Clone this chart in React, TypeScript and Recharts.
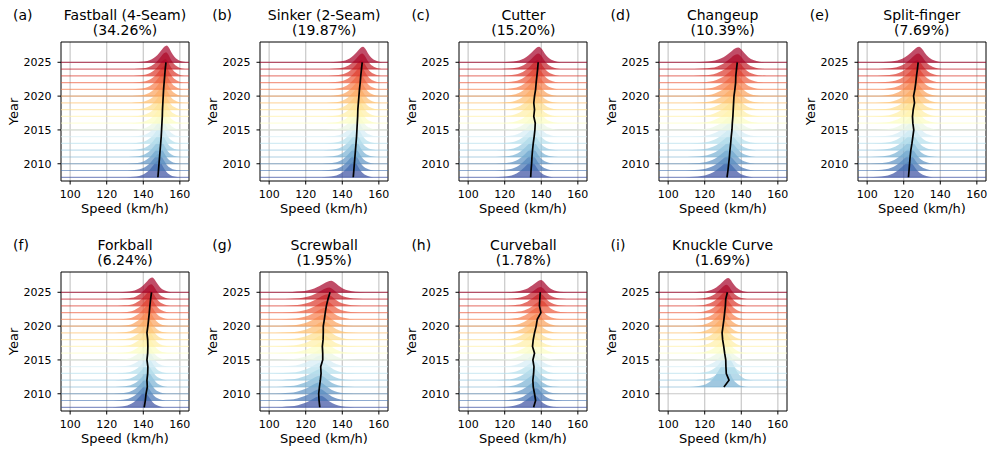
import { Area, CartesianGrid, ComposedChart, Line, ReferenceArea, ReferenceLine, XAxis, YAxis } from "recharts";

const YEARS = [2008, 2009, 2010, 2011, 2012, 2013, 2014, 2015, 2016, 2017, 2018, 2019, 2020, 2021, 2022, 2023, 2024, 2025];

const PANEL_TAGS = ["(a)", "(b)", "(c)", "(d)", "(e)", "(f)", "(g)", "(h)", "(i)"];
const PITCH_NAMES = ["Fastball (4-Seam)", "Sinker (2-Seam)", "Cutter", "Changeup", "Split-finger", "Forkball", "Screwball", "Curveball", "Knuckle Curve"];
const PITCH_SHARES = ["34.26%", "19.87%", "15.20%", "10.39%", "7.69%", "6.24%", "1.95%", "1.78%", "1.69%"];

// yearly centre speed (km/h), the black line, 2008..2025 (null = no data that year)
const FASTBALL_4S = [148.0, 148.3, 148.6, 148.9, 149.2, 149.5, 149.8, 150.0, 150.2, 150.4, 150.5, 150.7, 150.9, 151.1, 151.4, 151.7, 152.0, 152.4];
const SINKER_2S = [146.0, 146.3, 146.6, 146.9, 147.2, 147.5, 147.8, 148.0, 148.2, 148.4, 148.5, 148.8, 149.1, 149.4, 149.8, 150.1, 150.5, 150.9];
const CUTTER = [134.2, 134.4, 134.7, 134.9, 135.2, 135.6, 136.1, 136.5, 136.7, 135.9, 136.3, 135.9, 136.3, 136.9, 137.2, 137.6, 138.0, 138.3];
const CHANGEUP = [132.2, 132.7, 133.1, 133.5, 133.8, 134.2, 134.5, 134.9, 135.1, 135.4, 135.6, 135.8, 136.0, 136.5, 136.9, 137.0, 137.4, 137.8];
const SPLITTER = [122.6, 122.9, 123.2, 123.5, 123.9, 124.5, 125.0, 125.5, 125.0, 124.8, 125.2, 125.9, 125.4, 126.1, 126.6, 127.0, 127.5, 127.9];
const FORKBALL = [140.5, 141.1, 141.5, 142.2, 142.0, 142.4, 142.5, 142.0, 142.4, 142.5, 142.4, 142.0, 142.5, 142.9, 143.3, 143.6, 144.0, 144.5];
const SCREWBALL = [127.7, 127.3, 127.1, 127.5, 128.0, 128.4, 128.2, 129.3, 129.3, 129.1, 129.5, 129.6, 129.6, 130.2, 130.7, 131.3, 132.2, 133.3];
const CURVEBALL = [135.8, 136.9, 136.3, 135.6, 135.4, 135.8, 136.0, 135.4, 136.3, 135.2, 135.6, 136.3, 137.2, 137.8, 139.8, 139.0, 139.2, 139.4];
const KNUCKLE_CURVE = [null, null, null, 130.5, 133.3, 131.8, 131.6, 131.5, 130.9, 130.4, 129.8, 129.5, 130.0, 130.5, 130.9, 131.3, 131.5, 132.4];

// ridge spread (km/h) and peak height (years) per pitch
const RIDGE_SPREAD = [3.1, 3.2, 3.6, 4.2, 3.9, 3.2, 4.8, 3.7, 3.4];
const RIDGE_HEIGHT = [2.5, 2.3, 2.3, 2.2, 2.3, 2.2, 1.7, 1.8, 2.1];
const KNUCKLE_RIDGE_HEIGHT = [0, 0, 0, 3.5, 3.0, 2.5, 2.2, 2.1, 2.1, 2.1, 2.1, 2.1, 2.1, 2.1, 2.1, 2.1, 2.1, 2.1];

// shared ridge outline: offset (in spreads) from the centre, relative height
const PROFILE_OFFSET = [-5.5, -4.3, -3.3, -2.5, -1.8, -1.2, -0.7, -0.3, 0.15, 0.5, 0.95, 1.45, 2.1, 2.9, 4.0];
const PROFILE_HEIGHT = [0, 0.03, 0.08, 0.18, 0.34, 0.55, 0.76, 0.92, 1.0, 0.88, 0.6, 0.34, 0.15, 0.04, 0];

const SPEED_TICKS = [100, 120, 140, 160];
const YEAR_TICKS = [2010, 2015, 2020, 2025];
const SPEED_DOMAIN: [number, number] = [95, 165];
const YEAR_DOMAIN: [number, number] = [2007.45, 2028];

const CENTRES = [FASTBALL_4S, SINKER_2S, CUTTER, CHANGEUP, SPLITTER, FORKBALL, SCREWBALL, CURVEBALL, KNUCKLE_CURVE];

const FONT = '"DejaVu Sans", sans-serif';
const RDYLBU = ["#a50026", "#d73027", "#f46d43", "#fdae61", "#fee090", "#ffffbf", "#e0f3f8", "#abd9e9", "#74add1", "#4575b4", "#313695"];

/** RdYlBu_r sampled over the year range (blue end stops a little short of the darkest stop). */
function yearColor(year: number): string {
  const p = (1 - (year - 2008) / 17) * 9.6;
  const i = Math.min(9, Math.floor(p));
  const f = p - i;
  const a = RDYLBU[i], b = RDYLBU[i + 1];
  const ch = (s: string, k: number) => parseInt(s.slice(1 + 2 * k, 3 + 2 * k), 16);
  const mix = [0, 1, 2].map((k) => Math.round(ch(a, k) * (1 - f) + ch(b, k) * f));
  return `rgb(${mix.join(",")})`;
}

const YearLabel = ({ viewBox }: any) => {
  const x = viewBox.x + 13.5;
  const y = viewBox.y + viewBox.height / 2;
  return (
    <text x={x} y={y} transform={`rotate(-90 ${x} ${y})`} textAnchor="middle" dominantBaseline="central" fontSize={13} fill="#000">
      Year
    </text>
  );
};

function Panel({ index }: { index: number }) {
  const col = index % 5;
  const row = Math.floor(index / 5);
  const plotLeft = 61 + col * 199.2;
  const plotTop = row === 0 ? 42 : 271.5;
  const centres = CENTRES[index];
  const years = YEARS.filter((_, i) => centres[i] != null);
  const spread = RIDGE_SPREAD[index];

  const ridge = (year: number) => {
    const i = YEARS.indexOf(year);
    const c = centres[i] as number;
    const h = index === 8 ? KNUCKLE_RIDGE_HEIGHT[i] : RIDGE_HEIGHT[index];
    return PROFILE_OFFSET.map((o, k) => ({ speed: c + o * spread, v: year + PROFILE_HEIGHT[k] * h }));
  };
  const trend = years.map((y) => ({ speed: centres[YEARS.indexOf(y)] as number, year: y }));

  return (
    <div style={{ position: "absolute", left: plotLeft - 61, top: plotTop - 42, width: 195, height: 228 }}>
      <div style={{ position: "absolute", left: 13, top: 8.2, fontSize: 14, lineHeight: "15px" }}>{PANEL_TAGS[index]}</div>
      <div style={{ position: "absolute", left: 51, width: 148, top: 8.2, fontSize: 14, lineHeight: "15px", textAlign: "center", whiteSpace: "nowrap" }}>
        <div>{PITCH_NAMES[index]}</div>
        <div>({PITCH_SHARES[index]})</div>
      </div>
      <ComposedChart width={195} height={228} margin={{ top: 42, right: 6, bottom: 27, left: 0 }}>
        <CartesianGrid stroke="#b0b0b0" strokeOpacity={0.7} strokeWidth={1.2} horizontalValues={YEAR_TICKS} verticalValues={SPEED_TICKS} />
        <XAxis
          type="number"
          dataKey="speed"
          domain={SPEED_DOMAIN}
          ticks={SPEED_TICKS}
          allowDataOverflow
          axisLine={false}
          tickLine={{ stroke: "#000" }}
          tickSize={3.5}
          tickMargin={5.5}
          tick={{ fill: "#000", fontSize: 11 }}
          height={20}
          label={{ value: "Speed (km/h)", position: "bottom", offset: 3, fill: "#000", fontSize: 13 }}
        />
        <YAxis
          type="number"
          domain={YEAR_DOMAIN}
          ticks={YEAR_TICKS}
          allowDataOverflow
          axisLine={false}
          tickLine={{ stroke: "#000" }}
          tickSize={3.5}
          tickMargin={6}
          tick={{ fill: "#000", fontSize: 11 }}
          width={61}
          label={<YearLabel />}
        />
        {years.map((y) => (
          <ReferenceLine key={`l${y}`} y={y} stroke={yearColor(y)} strokeOpacity={0.6} strokeWidth={1.2} />
        ))}
        {years.map((y) => (
          <Area
            key={`r${y}`}
            data={ridge(y)}
            dataKey="v"
            baseValue={y}
            type="monotone"
            stroke="none"
            fill={yearColor(y)}
            fillOpacity={0.7}
            isAnimationActive={false}
          />
        ))}
        <Line data={trend} dataKey="year" type="linear" stroke="#000" strokeWidth={1.7} dot={false} isAnimationActive={false} />
        <ReferenceArea x1={SPEED_DOMAIN[0]} x2={SPEED_DOMAIN[1]} y1={YEAR_DOMAIN[0]} y2={YEAR_DOMAIN[1]} fill="none" stroke="#000" strokeWidth={1} fillOpacity={0} />
      </ComposedChart>
    </div>
  );
}

export default function App() {
  return (
    <div style={{ position: "absolute", left: 0, top: 0, width: 996, height: 454, background: "#fff", fontFamily: FONT, color: "#000" }}>
      {PITCH_NAMES.map((_, i) => (
        <Panel key={i} index={i} />
      ))}
    </div>
  );
}
